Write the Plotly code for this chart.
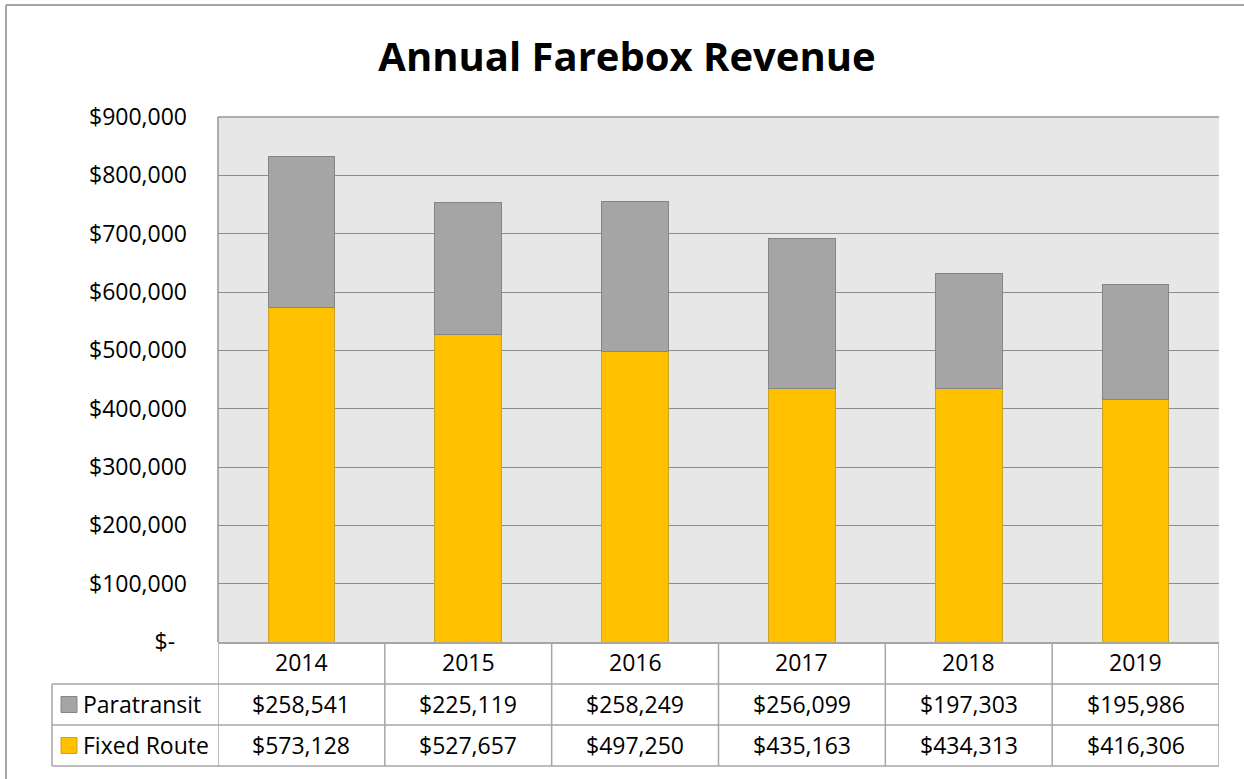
import plotly.graph_objects as go

years = ["2014", "2015", "2016", "2017", "2018", "2019"]
paratransit = [258541, 225119, 258249, 256099, 197303, 195986]
fixed_route = [573128, 527657, 497250, 435163, 434313, 416306]
series_names = ["Paratransit", "Fixed Route"]
series_colors = ["#A5A5A5", "#FFC000"]
series_edges = ["#858585", "#C9A227"]
y_tickvals = [0, 100000, 200000, 300000, 400000, 500000, 600000, 700000, 800000, 900000]
y_ticktext = ["$-\u00a0\u00a0", "$100,000", "$200,000", "$300,000", "$400,000", "$500,000",
              "$600,000", "$700,000", "$800,000", "$900,000"]

FONT = "Open Sans"
FS = 23
W, H = 1244, 779
L, R, T, B = 218, 1219, 117, 642
pw, ph = R - L, B - T

def px(x):
    return (x - L) / pw

def py(y):
    return (B - y) / ph

fig = go.Figure()
fig.add_trace(go.Bar(x=years, y=fixed_route, name=series_names[1], width=0.4,
                     marker=dict(color=series_colors[1], line=dict(color=series_edges[1], width=1))))
fig.add_trace(go.Bar(x=years, y=paratransit, name=series_names[0], width=0.4,
                     marker=dict(color=series_colors[0], line=dict(color=series_edges[0], width=1))))

line_col = "#A6A6A6"
shapes = []
shapes.append(dict(type="line", xref="paper", yref="paper", x0=px(6), x1=px(1260), y0=py(5), y1=py(5),
                   line=dict(color="#A6A6A6", width=2)))
shapes.append(dict(type="line", xref="paper", yref="paper", x0=px(6), x1=px(6), y0=py(5), y1=py(800),
                   line=dict(color="#A6A6A6", width=2)))
shapes.append(dict(type="line", xref="paper", yref="paper", x0=0, x1=1, y0=1, y1=1,
                   line=dict(color="#969696", width=1.5)))
shapes.append(dict(type="line", xref="paper", yref="paper", x0=0, x1=0, y0=0, y1=1,
                   line=dict(color="#969696", width=1.5)))

row_y = [642, 684, 725, 766]
for yy in row_y[1:]:
    shapes.append(dict(type="line", xref="paper", yref="paper", x0=px(52), x1=1, y0=py(yy), y1=py(yy),
                       line=dict(color=line_col, width=1.5)))
for k in range(len(years) + 1):
    shapes.append(dict(type="line", xref="x", yref="paper", x0=k - 0.5, x1=k - 0.5, y0=0, y1=py(766),
                       line=dict(color=line_col, width=1.5)))
shapes.append(dict(type="line", xref="paper", yref="paper", x0=px(52), x1=px(52), y0=py(684), y1=py(766),
                   line=dict(color=line_col, width=1.5)))

annotations = []
rows = [paratransit, fixed_route]
for r, vals in enumerate(rows):
    y0, y1 = row_y[r + 1], row_y[r + 2]
    yc = py((y0 + y1) / 2 - 1)
    shapes.append(dict(type="rect", xref="paper", yref="paper", x0=px(61), x1=px(77),
                       y0=py((y0 + y1) / 2 - 8), y1=py((y0 + y1) / 2 + 8),
                       fillcolor=series_colors[r], line=dict(color=series_edges[r], width=1)))
    annotations.append(dict(xref="paper", yref="paper", x=px(81), y=yc, xanchor="left", yanchor="middle",
                            text=series_names[r], showarrow=False,
                            font=dict(family=FONT, size=FS, color="#000000")))
    for i, v in enumerate(vals):
        annotations.append(dict(xref="x", yref="paper", x=i, y=yc, xanchor="center", yanchor="middle",
                                text=f"${v:,}", showarrow=False,
                                font=dict(family=FONT, size=FS, color="#000000")))
for i, yr in enumerate(years):
    annotations.append(dict(xref="x", yref="paper", x=i, y=py(662), xanchor="center", yanchor="middle",
                            text=yr, showarrow=False, font=dict(family=FONT, size=FS, color="#000000")))

fig.update_layout(
    width=W, height=H, autosize=False,
    margin=dict(l=L, r=W - R, t=T, b=H - B, pad=0),
    paper_bgcolor="#FFFFFF", plot_bgcolor="#E7E7E7",
    barmode="stack", bargap=0.6, showlegend=False,
    title=dict(text="<b>Annual Farebox Revenue</b>", x=627 / W, xref="container", xanchor="center",
               y=1 - 57 / H, yref="container", yanchor="middle",
               font=dict(family=FONT, size=40, color="#000000")),
    xaxis=dict(type="category", range=[-0.5, 5.5], showticklabels=False, showgrid=False,
               showline=True, linecolor=line_col, linewidth=1.5, zeroline=False, fixedrange=True),
    yaxis=dict(range=[0, 900000], tickvals=y_tickvals, ticktext=y_ticktext, showgrid=True,
               gridcolor="#8C8C8C", gridwidth=1, zeroline=False, ticks="", ticklabelstandoff=30,
               tickfont=dict(family=FONT, size=FS, color="#000000"), fixedrange=True),
    shapes=shapes, annotations=annotations,
)

fig.write_html("out.html", config={"displayModeBar": False},
               post_script="document.body.style.margin='0';")
